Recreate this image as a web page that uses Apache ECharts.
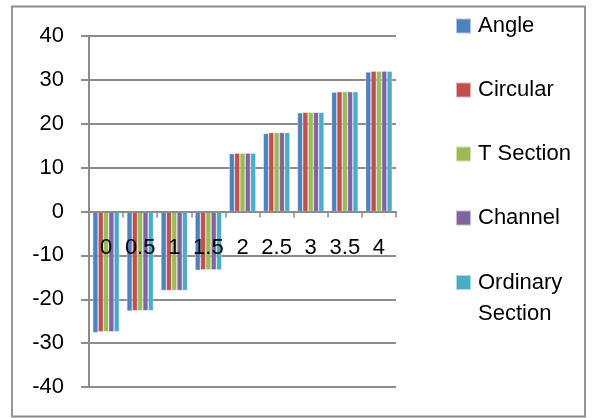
<!DOCTYPE html>
<html>
<head>
<meta charset="utf-8">
<script src="https://cdn.jsdelivr.net/npm/echarts@6/dist/echarts.min.js"></script>
<style>
  html, body { margin: 0; padding: 0; background: #fff; }
  #chart { width: 592px; height: 418px; }
</style>
</head>
<body>
<div id="chart"></div>
<script>
// Category positions along the member
const categories = ['0', '0.5', '1', '1.5', '2', '2.5', '3', '3.5', '4'];

// Values per section type
const angle     = [-27.6, -22.7, -18.0, -13.4, 13.2, 17.8, 22.5, 27.2, 31.8];
const circular  = [-27.4, -22.6, -18.0, -13.3, 13.3, 18.0, 22.6, 27.3, 32.0];
const tSection  = [-27.4, -22.6, -18.0, -13.3, 13.3, 18.0, 22.6, 27.3, 32.0];
const channel   = [-27.4, -22.6, -18.0, -13.3, 13.3, 18.0, 22.6, 27.3, 32.0];
const ordinary  = [-27.4, -22.6, -18.0, -13.3, 13.3, 18.0, 22.6, 27.3, 32.0];

// Y axis range and step
const yMin = -40;
const yMax = 40;
const yStep = 10;

const seriesNames = ['Angle', 'Circular', 'T Section', 'Channel', 'Ordinary Section'];
const seriesData = [angle, circular, tSection, channel, ordinary];
const colors = ['#4F81BD', '#C0504D', '#9BBB59', '#8064A2', '#4BACC6'];

const FONT = '"Liberation Sans", Arial, sans-serif';
const GRID_GRAY = '#8c8c8c';

// Plot area
const GRID_TOP = 36;
const GRID_BOTTOM = 31;
const CHART_H = 418;
const plotH = CHART_H - GRID_TOP - GRID_BOTTOM;
// Shift the category axis up from the bottom edge to the zero line
const zeroOffset = -plotH * (0 - yMin) / (yMax - yMin);

const chart = echarts.init(document.getElementById('chart'), null, { renderer: 'canvas' });

const series = seriesNames.map((name, i) => ({
  name: name,
  type: 'bar',
  data: seriesData[i],
  barGap: '0%',
  barCategoryGap: '22%',
  itemStyle: { color: colors[i], borderColor: 'rgba(255,255,255,0.55)', borderWidth: 0.6 }
}));

const legendText = { fontFamily: FONT, fontSize: 22, color: '#000' };

chart.setOption({
  animation: false,
  backgroundColor: '#ffffff',
  color: colors,
  graphic: [{
    type: 'rect',
    shape: { x: 12, y: 6.5, width: 573, height: 410 },
    style: { fill: 'none', stroke: '#8a8a8a', lineWidth: 1.8 },
    silent: true,
    z: -1
  }],
  grid: {
    left: 89, right: 196, top: GRID_TOP, bottom: GRID_BOTTOM,
    containLabel: false,
    outerBoundsMode: 'none'
  },
  legend: [{
    orient: 'vertical',
    left: 455,
    top: 11,
    padding: 0,
    itemWidth: 15,
    itemHeight: 15,
    itemGap: 34,
    icon: 'rect',
    data: seriesNames.slice(0, 4),
    textStyle: Object.assign({ lineHeight: 30, padding: [0, 0, 0, 2] }, legendText)
  }, {
    orient: 'vertical',
    left: 455,
    top: 236,
    padding: 0,
    itemWidth: 15,
    itemHeight: 15,
    icon: 'rect',
    data: ['Ordinary Section'],
    // blank first line keeps the marker level with "Ordinary"
    formatter: () => ' \nOrdinary\nSection',
    textStyle: Object.assign({ lineHeight: 31, padding: [0, 0, 0, 2] }, legendText)
  }],
  xAxis: {
    type: 'category',
    data: categories,
    position: 'bottom',
    offset: zeroOffset,
    z: 5,
    axisLine: { onZero: false, lineStyle: { color: GRID_GRAY, width: 2 } },
    axisTick: { show: true, length: 6, lineStyle: { color: GRID_GRAY, width: 1.5 } },
    axisLabel: { fontFamily: FONT, fontSize: 22, color: '#000', margin: 25, interval: 0 },
    splitLine: { show: false }
  },
  yAxis: {
    type: 'value',
    min: yMin,
    max: yMax,
    interval: yStep,
    axisLine: { show: true, lineStyle: { color: GRID_GRAY, width: 2 } },
    axisTick: { show: true, length: 8, inside: false, lineStyle: { color: GRID_GRAY, width: 2 } },
    axisLabel: { fontFamily: FONT, fontSize: 22, color: '#000', margin: 25 },
    splitLine: { show: true, lineStyle: { color: GRID_GRAY, width: 2 } }
  },
  series: series
});
</script>
</body>
</html>
